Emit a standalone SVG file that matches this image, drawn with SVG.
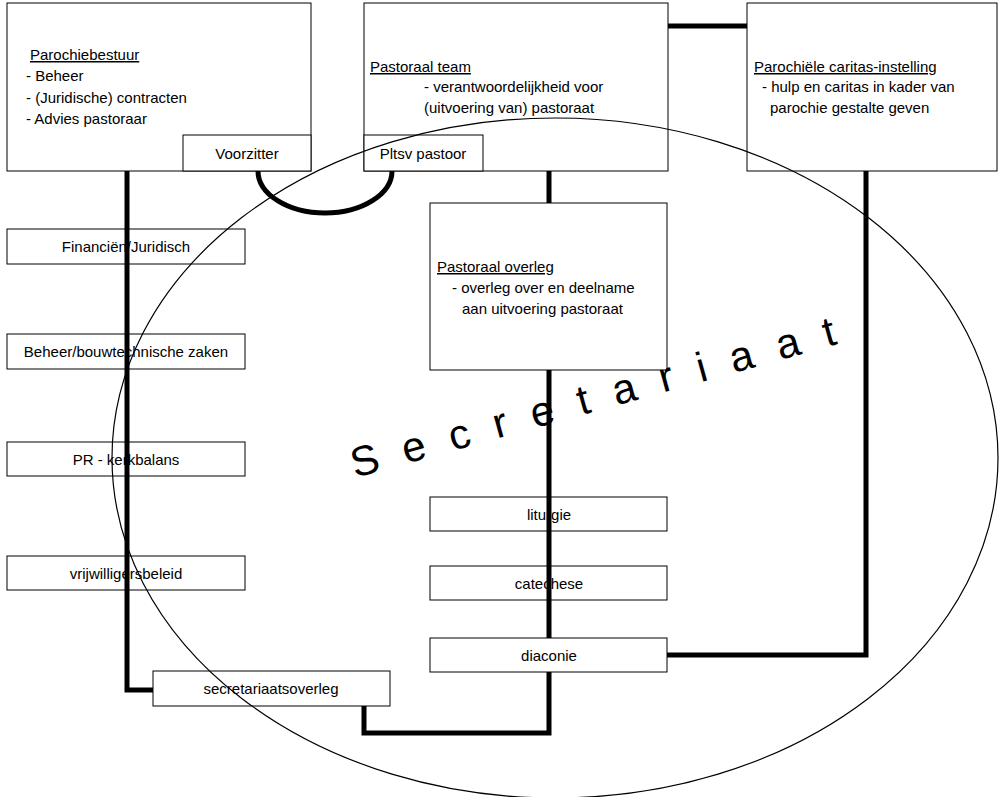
<svg xmlns="http://www.w3.org/2000/svg" width="1000" height="797" viewBox="0 0 1000 797">
<style>
.b{fill:#fff;stroke:#000;stroke-width:1}
.t{font-family:"Liberation Sans",Arial,sans-serif;font-size:15px;fill:#000}
.c{text-anchor:middle}
.u{text-decoration:underline}
.w{fill:none;stroke:#000;stroke-width:5}
</style>
<rect width="1000" height="797" fill="#fff"/>
<g id="parochiebestuur"><rect class="b" x="7" y="3" width="304" height="168"/>
<text class="t u" x="30" y="60">Parochiebestuur</text>
<text class="t" x="26" y="81">- Beheer</text>
<text class="t" x="26" y="103">- (Juridische) contracten</text>
<text class="t" x="26" y="124">- Advies pastoraar</text></g>
<g id="voorzitter"><rect class="b" x="183" y="135" width="128" height="36"/><text class="t c" x="247" y="159">Voorzitter</text></g>
<g id="pastoraal-team"><rect class="b" x="364" y="3" width="304" height="168"/>
<text class="t u" x="370" y="72">Pastoraal team</text>
<text class="t" x="424" y="92">- verantwoordelijkheid voor</text>
<text class="t" x="424" y="113">(uitvoering van) pastoraat</text></g>
<g id="pltsv"><rect class="b" x="364" y="135" width="119" height="36"/><text class="t c" x="423" y="159">Pltsv pastoor</text></g>
<g id="caritas"><rect class="b" x="747" y="3" width="250" height="168"/>
<text class="t u" x="754" y="72">Parochiële caritas-instelling</text>
<text class="t" x="762" y="92">- hulp en caritas in kader van</text>
<text class="t" x="770" y="113">parochie gestalte geven</text></g>
<g id="pastoraal-overleg"><rect class="b" x="430" y="203" width="237" height="167"/>
<text class="t u" x="437" y="272">Pastoraal overleg</text>
<text class="t" x="452" y="293">- overleg over en deelname</text>
<text class="t" x="462" y="314">aan uitvoering pastoraat</text></g>
<g id="financien"><rect class="b" x="7" y="229" width="238" height="35"/><text class="t c" x="126" y="252">Financiën/Juridisch</text></g>
<g id="beheer"><rect class="b" x="7" y="334" width="238" height="35"/><text class="t c" x="126" y="357">Beheer/bouwtechnische zaken</text></g>
<g id="pr"><rect class="b" x="7" y="442" width="238" height="34"/><text class="t c" x="126" y="465">PR - kerkbalans</text></g>
<g id="vrijwilligers"><rect class="b" x="7" y="556" width="238" height="34"/><text class="t c" x="126" y="579">vrijwilligersbeleid</text></g>
<g id="secretariaatsoverleg"><rect class="b" x="153" y="671" width="237" height="35"/><text class="t c" x="271" y="694">secretariaatsoverleg</text></g>
<g id="liturgie"><rect class="b" x="430" y="497" width="237" height="34"/><text class="t c" x="549" y="520">liturgie</text></g>
<g id="catechese"><rect class="b" x="430" y="566" width="237" height="34"/><text class="t c" x="549" y="589">catechese</text></g>
<g id="diaconie"><rect class="b" x="430" y="638" width="237" height="34"/><text class="t c" x="549" y="661">diaconie</text></g>
<g id="secretariaat"><ellipse cx="555" cy="458" rx="443" ry="340" fill="none" stroke="#000" stroke-width="1.2"/>
<text x="355" y="478" transform="rotate(-15.5 355 478)" style="font-family:'Liberation Sans',Arial,sans-serif;font-size:42px;letter-spacing:25px">Secretariaat</text></g>
<g id="connectors">
<path class="w" d="M668 26H747"/>
<path class="w" d="M258 171A67 42 0 0 0 392 171"/>
<path class="w" d="M549 171V203M549 370V638M549 672V733H364V706"/>
<path class="w" d="M667 655H866V171"/>
<path class="w" d="M127 171V690H153"/>
</g>
</svg>
